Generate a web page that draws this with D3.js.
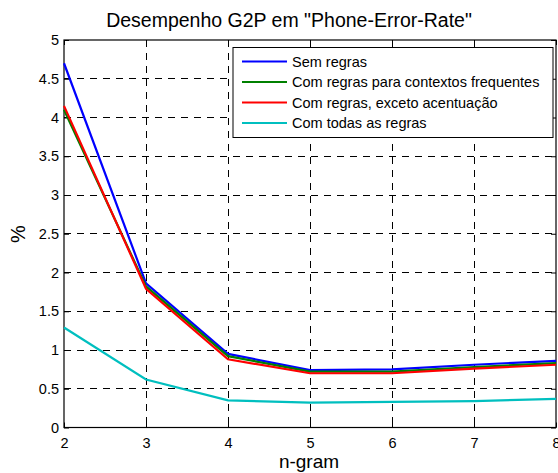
<!DOCTYPE html>
<html><head><meta charset="utf-8">
<script src="https://cdn.jsdelivr.net/npm/d3@7"></script>
<style>body{margin:0;background:#fff;} svg{display:block;font-family:"Liberation Sans",Arial,sans-serif;}</style>
</head><body>
<svg id="c" width="558" height="473"></svg>
<script>
const ngram = [2, 3, 4, 5, 6, 7, 8];
const semRegras = [4.70, 1.86, 0.95, 0.74, 0.75, 0.81, 0.86];
const comFreq = [4.10, 1.82, 0.92, 0.72, 0.72, 0.78, 0.83];
const comExceto = [4.15, 1.79, 0.88, 0.70, 0.70, 0.76, 0.81];
const comTodas = [1.29, 0.62, 0.35, 0.32, 0.33, 0.34, 0.37];
const seriesNames = ["Sem regras", "Com regras para contextos frequentes", "Com regras, exceto acentuação", "Com todas as regras"];
const seriesColors = ["#0000ff", "#008000", "#ff0000", "#00bfbf"];
const yTicks = [0, 0.5, 1, 1.5, 2, 2.5, 3, 3.5, 4, 4.5, 5];
const xTicks = [2, 3, 4, 5, 6, 7, 8];
const allSeries = [semRegras, comFreq, comExceto, comTodas];

const L = 64, R = 556, T = 40, B = 427.5;
const svg = d3.select("#c");
const x = d3.scaleLinear().domain([2, 8]).range([L, R]);
const y = d3.scaleLinear().domain([0, 5]).range([B, T]);

// grid
const g = svg.append("g");
g.selectAll(".gx").data(xTicks.slice(1, -1)).join("line")
  .attr("x1", d => x(d)).attr("x2", d => x(d)).attr("y1", T).attr("y2", B)
  .attr("stroke", "#000").attr("stroke-width", 1).attr("stroke-dasharray", "7,6").attr("shape-rendering", "crispEdges");
g.selectAll(".gy").data(yTicks.slice(1, -1)).join("line")
  .attr("x1", L).attr("x2", R).attr("y1", d => y(d)).attr("y2", d => y(d))
  .attr("stroke", "#000").attr("stroke-width", 1).attr("stroke-dasharray", "7,6").attr("shape-rendering", "crispEdges");

// axes
const axB = svg.append("g").attr("transform", `translate(0,${B})`)
  .call(d3.axisBottom(x).tickValues(xTicks).tickSize(-5).tickPadding(10).tickFormat(d3.format("d")));
const axL = svg.append("g").attr("transform", `translate(${L},0)`)
  .call(d3.axisLeft(y).tickValues(yTicks).tickSize(-5).tickPadding(5).tickFormat(d => String(d)));
const axT = svg.append("g").attr("transform", `translate(0,${T})`)
  .call(d3.axisTop(x).tickValues(xTicks).tickSize(-5).tickFormat(""));
const axR = svg.append("g").attr("transform", `translate(${R},0)`)
  .call(d3.axisRight(y).tickValues(yTicks).tickSize(-5).tickFormat(""));
[axB, axL, axT, axR].forEach(a => {
  a.select(".domain").remove();
  a.selectAll("line").attr("stroke", "#000");
  a.selectAll("text").attr("fill", "#000").style("font-size", "14.5px").style("font-family", "Liberation Sans, Arial, sans-serif");
});
svg.append("rect").attr("x", L).attr("y", T).attr("width", R - L).attr("height", B - T)
  .attr("fill", "none").attr("stroke", "#000").attr("stroke-width", 1.2);

// lines
const line = d3.line().x((d, i) => x(ngram[i])).y(d => y(d));
svg.selectAll(".s").data(allSeries).join("path")
  .attr("d", d => line(d)).attr("fill", "none")
  .attr("stroke", (d, i) => seriesColors[i]).attr("stroke-width", 2.2);

// legend
const lg = svg.append("g");
lg.append("rect").attr("x", 233).attr("y", 47.5).attr("width", 320).attr("height", 90)
  .attr("fill", "#fff").attr("stroke", "#000").attr("stroke-width", 1);
seriesNames.forEach((n, i) => {
  const yy = 61.5 + i * 20.5;
  lg.append("line").attr("x1", 242).attr("x2", 287).attr("y1", yy).attr("y2", yy)
    .attr("stroke", seriesColors[i]).attr("stroke-width", 2.2);
  lg.append("text").attr("x", 292).attr("y", yy + 5).text(n).style("font-size", "14.5px").attr("fill", "#000");
});

// titles
svg.append("text").attr("x", 289).attr("y", 27).attr("text-anchor", "middle")
  .style("font-size", "19.5px").text('Desempenho G2P em "Phone-Error-Rate"');
svg.append("text").attr("x", 309).attr("y", 468).attr("text-anchor", "middle")
  .style("font-size", "19px").text("n-gram");
svg.append("text").attr("transform", "translate(25,234) rotate(-90)").attr("text-anchor", "middle")
  .style("font-size", "20px").text("%");
</script>
</body></html>
